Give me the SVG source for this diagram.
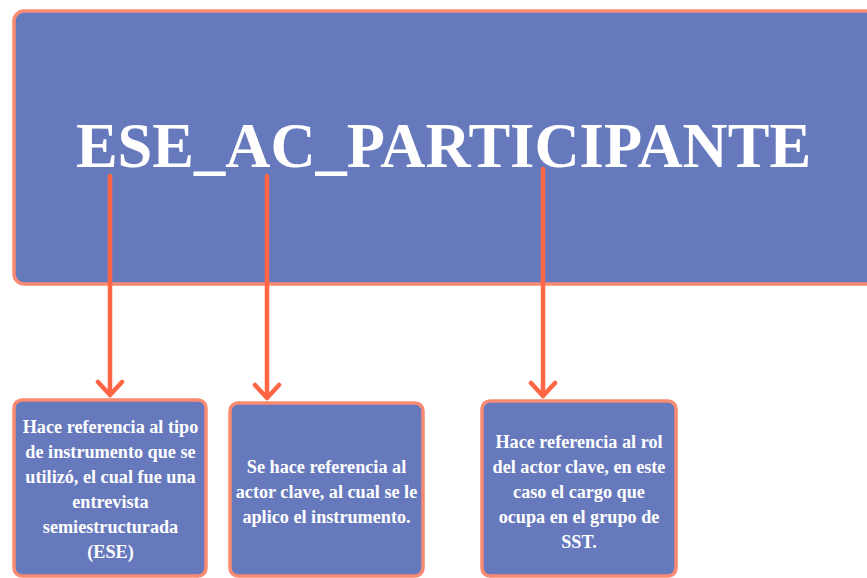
<svg xmlns="http://www.w3.org/2000/svg" width="867" height="578" viewBox="0 0 867 578">
<style>
.box{fill:#6779BD;stroke:#F98A72;stroke-width:3.5}
.t{font-family:"Liberation Serif","Times New Roman",serif;font-weight:bold;fill:#FFFFFF;text-anchor:middle}
.s{font-size:18.2px}
.c{stroke:#FF6645;stroke-width:4.5;fill:none;stroke-linecap:round;stroke-linejoin:round}
</style>
<rect width="867" height="578" fill="#FFFFFF"/>
<g id="main">
<rect class="box" x="14" y="11" width="880" height="273" rx="10"/>
<text class="t" x="443.5" y="167" font-size="62.5">ESE_AC_PARTICIPANTE</text>
</g>
<g id="box1">
<rect class="box" x="14" y="400" width="192" height="176" rx="8"/>
<text class="t s"><tspan x="110.5" y="433">Hace referencia al tipo</tspan><tspan x="110.5" y="458">de instrumento que se</tspan><tspan x="110.5" y="483">utilizó, el cual fue una</tspan><tspan x="110.5" y="508">entrevista</tspan><tspan x="110.5" y="533">semiestructurada</tspan><tspan x="110.5" y="558">(ESE)</tspan></text>
</g>
<g id="box2">
<rect class="box" x="230" y="403" width="193" height="173" rx="8"/>
<text class="t s"><tspan x="326.5" y="473">Se hace referencia al</tspan><tspan x="326.5" y="498">actor clave, al cual se le</tspan><tspan x="326.5" y="523">aplico el instrumento.</tspan></text>
</g>
<g id="box3">
<rect class="box" x="482" y="401" width="194" height="175" rx="8"/>
<text class="t s"><tspan x="579" y="448">Hace referencia al rol</tspan><tspan x="579" y="473">del actor clave, en este</tspan><tspan x="579" y="498">caso el cargo que</tspan><tspan x="579" y="523">ocupa en el grupo de</tspan><tspan x="579" y="548">SST.</tspan></text>
</g>
<g id="connectors">
<path class="c" d="M110 176 V395 M98 382 L110 395 L122 382"/>
<path class="c" d="M267 176 V398 M255 385 L267 398 L279 385"/>
<path class="c" d="M543 169 V396 M531 383 L543 396 L555 383"/>
</g>
</svg>
